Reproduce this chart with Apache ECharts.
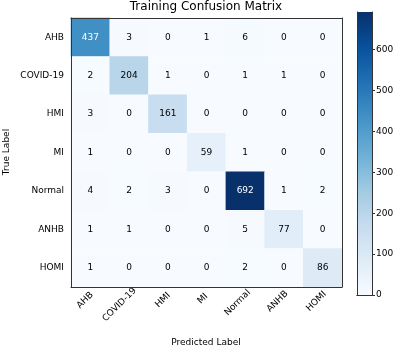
<!DOCTYPE html>
<html>
<head>
<meta charset="utf-8">
<script src="https://cdn.jsdelivr.net/npm/echarts@6/dist/echarts.min.js"></script>
<style>
  html, body { margin: 0; padding: 0; background: #fff; }
  #chart { width: 400px; height: 349px; }
</style>
</head>
<body>
<div id="chart"></div>
<script>
// class names (rows = true label, columns = predicted label)
const classes = ['AHB', 'COVID-19', 'HMI', 'MI', 'Normal', 'ANHB', 'HOMI'];

// confusion matrix counts, one row per true label
const matrix = [
  [437, 3, 0, 1, 6, 0, 0],
  [2, 204, 1, 0, 1, 1, 0],
  [3, 0, 161, 0, 0, 0, 0],
  [1, 0, 0, 59, 1, 0, 0],
  [4, 2, 3, 0, 692, 1, 2],
  [1, 1, 0, 0, 5, 77, 0],
  [1, 0, 0, 0, 2, 0, 86]
];

// colorbar scale
const cbMin = 0;
const cbMax = 692;
const cbTicks = [0, 100, 200, 300, 400, 500, 600];

// matplotlib "Blues"
const blues = ['#f7fbff', '#deebf7', '#c6dbef', '#9ecae1', '#6baed6', '#4292c6', '#2171b5', '#08519c', '#08306b'];

const font = 'DejaVu Sans';
const labelSize = 9;
const myChart = echarts.init(document.getElementById('chart'));

// matplotlib centres rotated tick labels on the tick; echarts anchors them at the end,
// so push each label along its own direction with padding
const ctx = document.createElement('canvas').getContext('2d');
ctx.font = labelSize + 'px "' + font + '"';
const xLabels = classes.map(name => {
  const w = ctx.measureText(name).width;
  const h = labelSize * 1.2;
  const d = Math.round(0.5 * (w + h) * 10) / 10;
  return {
    value: name,
    textStyle: { align: 'center', verticalAlign: 'middle', padding: [d, d, 0, 0] }
  };
});

const cells = [];
matrix.forEach((row, i) => {
  row.forEach((v, j) => {
    cells.push({
      value: [j, i, v],
      label: { color: v > cbMax / 2 ? '#fff' : '#000' }
    });
  });
});

const option = {
  backgroundColor: '#fff',
  animation: false,
  textStyle: { fontFamily: font },
  title: {
    text: 'Training Confusion Matrix',
    left: 206,
    textAlign: 'center',
    top: 1,
    padding: 0,
    textStyle: { fontSize: 12, fontWeight: 'normal', color: '#000', fontFamily: font }
  },
  // axis titles
  graphic: [
    {
      type: 'text', x: 206, y: 343,
      style: { text: 'Predicted Label', fill: '#000', font: '9px "' + font + '"', align: 'center', verticalAlign: 'middle' }
    },
    {
      type: 'text', x: 7, y: 152, rotation: Math.PI / 2,
      style: { text: 'True Label', fill: '#000', font: '9px "' + font + '"', align: 'center', verticalAlign: 'middle' }
    }
  ],
  grid: [
    { left: 71, top: 18, width: 271, height: 269, outerBoundsMode: 'none', containLabel: false },
    { left: 357, top: 12, width: 15, height: 283, outerBoundsMode: 'none', containLabel: false }
  ],
  xAxis: [
    {
      gridIndex: 0,
      type: 'category',
      data: xLabels,
      position: 'bottom',
      z: 5,
      axisLine: { lineStyle: { color: '#333', width: 1 } },
      axisTick: { alignWithLabel: true, length: 4, lineStyle: { color: '#333' } },
      axisLabel: { rotate: 45, fontSize: labelSize, color: '#000', margin: 8, interval: 0, hideOverlap: false },
      splitLine: { show: false }
    },
    {
      gridIndex: 0,
      type: 'category',
      data: classes,
      position: 'top',
      z: 5,
      axisLine: { lineStyle: { color: '#333', width: 1 } },
      axisTick: { show: false },
      axisLabel: { show: false }
    },
    {
      gridIndex: 1,
      type: 'category',
      data: [''],
      z: 5,
      axisLine: { lineStyle: { color: '#333' } },
      axisTick: { show: false },
      axisLabel: { show: false }
    },
    {
      gridIndex: 1,
      type: 'category',
      data: [''],
      position: 'top',
      z: 5,
      axisLine: { lineStyle: { color: '#333' } },
      axisTick: { show: false },
      axisLabel: { show: false }
    }
  ],
  yAxis: [
    {
      gridIndex: 0,
      type: 'category',
      data: classes,
      inverse: true,
      z: 5,
      axisLine: { lineStyle: { color: '#333', width: 1 } },
      axisTick: { alignWithLabel: true, length: 4, lineStyle: { color: '#333' } },
      axisLabel: { fontSize: labelSize, color: '#000', margin: 7 },
      splitLine: { show: false }
    },
    {
      gridIndex: 0,
      type: 'category',
      data: classes,
      inverse: true,
      position: 'right',
      z: 5,
      axisLine: { lineStyle: { color: '#333', width: 1 } },
      axisTick: { show: false },
      axisLabel: { show: false }
    },
    {
      gridIndex: 1,
      type: 'value',
      min: cbMin,
      max: cbMax,
      position: 'right',
      z: 5,
      axisLine: { show: true, lineStyle: { color: '#333' } },
      axisTick: { show: true, length: 3, lineStyle: { color: '#333' }, customValues: cbTicks },
      axisLabel: { fontSize: labelSize, color: '#000', margin: 4, customValues: cbTicks },
      splitLine: { show: false }
    },
    {
      gridIndex: 1,
      type: 'value',
      min: cbMin,
      max: cbMax,
      position: 'left',
      z: 5,
      axisLine: { show: true, lineStyle: { color: '#333' } },
      axisTick: { show: false },
      axisLabel: { show: false },
      splitLine: { show: false }
    }
  ],
  visualMap: {
    show: false,
    min: cbMin,
    max: cbMax,
    dimension: 2,
    seriesIndex: 0,
    inRange: { color: blues }
  },
  series: [
    {
      type: 'heatmap',
      xAxisIndex: 0,
      yAxisIndex: 0,
      data: cells,
      label: { show: true, fontSize: labelSize, fontFamily: font },
      itemStyle: { borderWidth: 0 },
      emphasis: { disabled: true }
    },
    {
      type: 'bar',
      xAxisIndex: 2,
      yAxisIndex: 2,
      data: [cbMax],
      barWidth: '100%',
      silent: true,
      itemStyle: {
        color: new echarts.graphic.LinearGradient(0, 0, 0, 1,
          blues.slice().reverse().map((c, k) => ({ offset: k / (blues.length - 1), color: c })))
      }
    }
  ]
};

myChart.setOption(option);
</script>
</body>
</html>
